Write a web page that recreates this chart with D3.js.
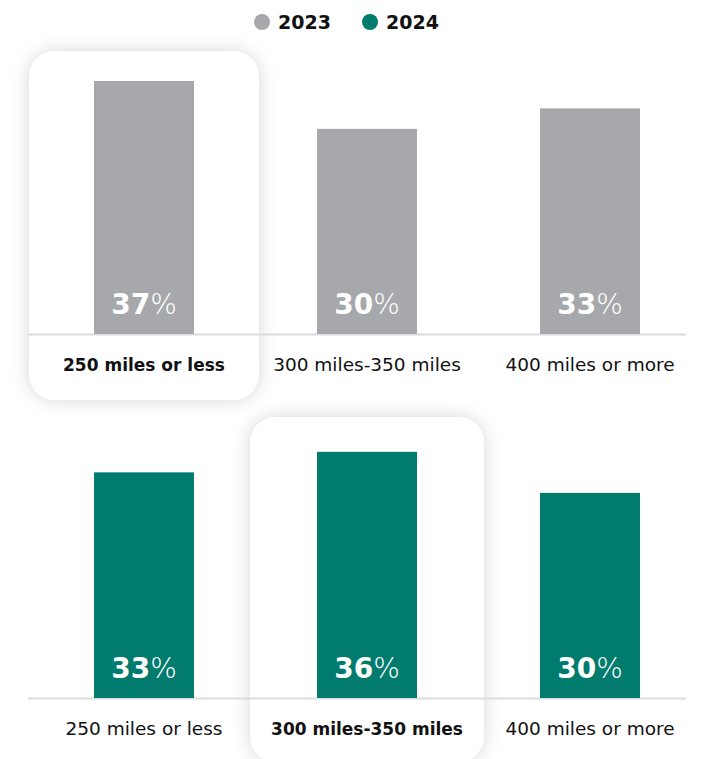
<!DOCTYPE html>
<html>
<head>
<meta charset="utf-8">
<script src="https://cdn.jsdelivr.net/npm/d3@7"></script>
<style>
  html, body { margin: 0; padding: 0; background: #fff; }
  svg { display: block; }
  text { font-family: "DejaVu Sans", "Noto Sans", sans-serif; }
</style>
</head>
<body>
<svg id="chart" width="709" height="759"></svg>
<script>
// Range preferences by year
const categories = ["250 miles or less", "300 miles-350 miles", "400 miles or more"];
const years = ["2023", "2024"];
const values2023 = [37, 30, 33];
const values2024 = [33, 36, 30];
const highlighted = ["250 miles or less", "300 miles-350 miles"]; // top pick per year
const colors = ["#a7a8ab", "#007b6e"];

const svg = d3.select("#chart");

const defs = svg.append("defs");
const f = defs.append("filter").attr("id", "shadow")
  .attr("x", "-30%").attr("y", "-30%").attr("width", "160%").attr("height", "160%");
f.append("feDropShadow").attr("dx", 0).attr("dy", 0).attr("stdDeviation", 9)
  .attr("flood-color", "#000").attr("flood-opacity", 0.16);

// Legend
const legend = svg.append("g");
const legendX = [262, 370];
years.forEach((y, i) => {
  legend.append("circle").attr("cx", legendX[i]).attr("cy", 22).attr("r", 8).attr("fill", colors[i]);
  legend.append("text").attr("x", legendX[i] + 16).attr("y", 29)
    .attr("font-size", 19).attr("font-weight", 700).attr("fill", "#111").text(y);
});

const x = d3.scaleBand().domain(categories).range([32.5, 701.5]).padding(0);
const barW = 100;

const panels = [
  { values: values2023, color: colors[0], base: 334, hl: highlighted[0], box: [51, 400], boxW: 230 },
  { values: values2024, color: colors[1], base: 698, hl: highlighted[1], box: [417, 762], boxW: 234 }
];

panels.forEach(p => {
  const y = d3.scaleLinear().domain([0, 37]).range([p.base, p.base - 253]);
  const g = svg.append("g");

  // Highlight card behind the chosen category
  const cx = x(p.hl) + x.bandwidth() / 2;
  g.append("rect")
    .attr("x", cx - p.boxW / 2).attr("y", p.box[0])
    .attr("width", p.boxW).attr("height", p.box[1] - p.box[0])
    .attr("rx", 26).attr("fill", "#fff").attr("filter", "url(#shadow)");

  // Baseline
  g.append("line").attr("x1", 28).attr("x2", 686)
    .attr("y1", p.base + 0.5).attr("y2", p.base + 0.5)
    .attr("stroke", "#dcdcdc").attr("stroke-width", 2);

  // Bars
  g.selectAll("rect.bar").data(categories).join("rect")
    .attr("class", "bar")
    .attr("x", d => x(d) + (x.bandwidth() - barW) / 2)
    .attr("width", barW)
    .attr("y", (d, i) => y(p.values[i]))
    .attr("height", (d, i) => p.base - y(p.values[i]))
    .attr("fill", p.color);

  // Value labels inside bars
  const vl = g.selectAll("text.val").data(categories).join("text")
    .attr("class", "val")
    .attr("x", d => x(d) + x.bandwidth() / 2)
    .attr("y", p.base - 20)
    .attr("text-anchor", "middle")
    .attr("fill", "#fff")
    .attr("font-size", 28);
  vl.append("tspan").attr("font-weight", 700).text((d, i) => p.values[i]);
  vl.append("tspan").attr("font-weight", 200).text("%");

  // Category labels
  g.selectAll("text.cat").data(categories).join("text")
    .attr("class", "cat")
    .attr("x", d => x(d) + x.bandwidth() / 2)
    .attr("y", p.base + 37)
    .attr("text-anchor", "middle")
    .attr("fill", "#111")
    .attr("font-size", d => d === p.hl ? 17 : 18.5)
    .attr("font-weight", d => d === p.hl ? 700 : 400)
    .text(d => d);
});
</script>
</body>
</html>
